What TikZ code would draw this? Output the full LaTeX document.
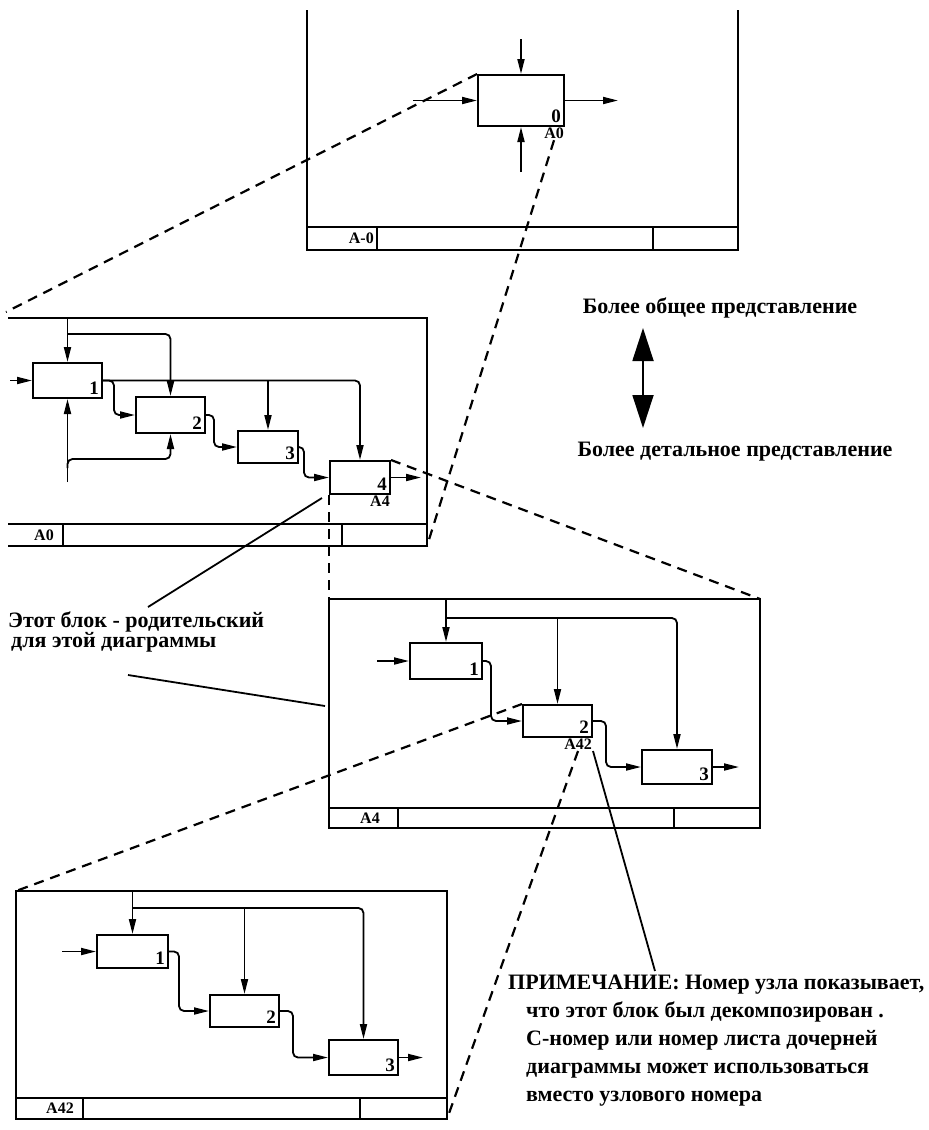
\documentclass[tikz,border=0pt]{standalone}
\usepackage{fontspec}
\setmainfont{Liberation Serif}
\usetikzlibrary{arrows.meta,calc}

\tikzset{
  frm/.style={line width=2pt},
  blk/.style 2 args={draw,line width=2pt,minimum width=#1,minimum height=#2,inner sep=0pt},
  num/.style={anchor=south east,inner sep=4pt,font=\bfseries\fontsize{19}{19}\selectfont},
  tag/.style={inner sep=1pt,font=\bfseries\fontsize{16}{16}\selectfont},
  txt/.style={inner sep=0pt,font=\bfseries\fontsize{22}{22}\selectfont},
  arr/.style={-{Triangle[length=15pt,width=7pt]},line width=1.8pt,rounded corners=5pt},
  dsh/.style={dash pattern=on 10pt off 7pt,line width=2.2pt},
  ptr/.style={line width=1.8pt},
}

\begin{document}
\begin{tikzpicture}[x=1pt,y=-1pt]
\useasboundingbox (0,0) rectangle (929,1130);

% A-0
\draw[frm] (307,10) -- (307,250) -- (738,250) -- (738,10);
\draw[frm] (307,227) -- (738,227) (377,227) -- (377,250) (653,227) -- (653,250);
\node[tag,anchor=east] (t0) at (375,238.5) {A-0};
\node[blk={86pt}{51pt}] (b0) at (521,100.5) {};
\node[num] (b0n) at (b0.south east) {0};
\node[tag,anchor=north east] (b0t) at (b0.south east) {A0};
\coordinate (b0c) at (521,39);
\coordinate (b0i) at (413,100.5);
\coordinate (b0o) at (618,100.5);
\coordinate (b0m) at (521,172);
\draw[arr] (b0c) -- (b0.north);
\draw[arr] (b0i) -- (b0.west);
\draw[arr] (b0.east) -- (b0o);
\draw[arr] (b0m) -- (b0.south);

% A0
\draw[frm] (8,318) -- (427,318) -- (427,546) -- (8,546);
\draw[frm] (8,524) -- (427,524) (63,524) -- (63,546) (342,524) -- (342,546);
\node[tag,anchor=east] (t1) at (55,535) {A0};
\node[blk={69pt}{35pt}] (b1) at (67.5,380.5) {};
\node[blk={69pt}{36pt}] (b2) at (170.5,415) {};
\node[blk={60pt}{32pt}] (b3) at (268,447) {};
\node[blk={60pt}{33pt}] (b4) at (360,477.5) {};
\node[num] (b1n) at (b1.south east) {1};
\node[num] (b2n) at (b2.south east) {2};
\node[num] (b3n) at (b3.south east) {3};
\node[num] (b4n) at (b4.south east) {4};
\node[tag,anchor=north east] (b4t) at (b4.south east) {A4};
\coordinate (b1i) at (10,380.5);
\coordinate (b1c) at (67.5,318);
\coordinate (b1m) at (67.5,482);
\draw[arr] (b1i) -- (b1.west);
\draw[arr] (b1c) -- (b1.north);
\draw[arr] ($(b1c)+(0,16)$) -| (b2.north);
\draw[arr] (b1m) -- (b1.south);
\draw[arr] ($(b1m)+(0,-14)$) |- ($(b2.south)+(0,25)$) -- (b2.south);
\draw[arr] (b1.east) -| (b4.north);
\draw[arr] (b3.north |- b1.east) -- (b3.north);
\draw[arr] (b1.east) -- ++(11,0) |- (b2.west);
\draw[arr] (b2.east) -- ++(8,0) |- (b3.west);
\draw[arr] (b3.east) -- ++(5,0) |- (b4.west);
\draw[arr] (b4.east) -- ++(30,0);

% A4
\draw[frm] (329,599) rectangle (760,828);
\draw[frm] (329,808) -- (760,808) (398,808) -- (398,828) (674,808) -- (674,828);
\node[tag,anchor=east] (t2) at (381,818) {A4};
\node[blk={72pt}{36pt}] (c1) at (446,661) {};
\node[blk={69pt}{32pt}] (c2) at (557.5,721) {};
\node[blk={70pt}{34pt}] (c3) at (677,767) {};
\node[num] (c1n) at (c1.south east) {1};
\node[num] (c2n) at (c2.south east) {2};
\node[num] (c3n) at (c3.south east) {3};
\node[tag,anchor=north east] (c2t) at (c2.south east) {A42};
\coordinate (c1i) at (377,661);
\coordinate (c1c) at (446,599);
\draw[arr] (c1i) -- (c1.west);
\draw[arr] (c1c) -- (c1.north);
\draw[arr] ($(c1c)+(0,19)$) -| (c3.north);
\draw[arr] (c2.north |- 0,618) -- (c2.north);
\draw[arr] (c1.east) -- ++(8,0) |- (c2.west);
\draw[arr] (c2.east) -- ++(13,0) |- (c3.west);
\draw[arr] (c3.east) -- ++(26,0);

% A42
\draw[frm] (16,891) rectangle (447,1119);
\draw[frm] (16,1098) -- (447,1098) (83,1098) -- (83,1119) (360,1098) -- (360,1119);
\node[tag,anchor=east] (t3) at (75,1108.5) {A42};
\node[blk={71pt}{33pt}] (d1) at (132.5,951.5) {};
\node[blk={69pt}{32pt}] (d2) at (244.5,1011) {};
\node[blk={69pt}{35pt}] (d3) at (363.5,1057.5) {};
\node[num] (d1n) at (d1.south east) {1};
\node[num] (d2n) at (d2.south east) {2};
\node[num] (d3n) at (d3.south east) {3};
\coordinate (d1i) at (62,951.5);
\coordinate (d1c) at (132.5,891);
\draw[arr] (d1i) -- (d1.west);
\draw[arr] (d1c) -- (d1.north);
\draw[arr] ($(d1c)+(0,17)$) -| (d3.north);
\draw[arr] (d2.north |- 0,908) -- (d2.north);
\draw[arr] (d1.east) -- ++(10,0) |- (d2.west);
\draw[arr] (d2.east) -- ++(13,0) |- (d3.west);
\draw[arr] (d3.east) -- ++(24,0);

% dashed links
\coordinate (f1nw) at (6,312);
\coordinate (f1se) at (427,546);
\coordinate (f2nw) at (329,599);
\coordinate (f2ne) at (760,599);
\coordinate (f3nw) at (16,891);
\coordinate (f3se) at (447,1119);
\draw[dsh] (b0.north west) -- (f1nw);
\draw[dsh] (b0t.south) -- (f1se);
\draw[dsh] (b4.south west) -- (f2nw);
\draw[dsh] (b4.north east) -- (f2ne);
\draw[dsh] (c2.north west) -- (f3nw);
\draw[dsh] (c2t.south) -- (f3se);

% texts
\node[txt] (gen) at (720,308) {Более общее представление};
\node[txt] (det) at (735,452) {Более детальное представление};
\coordinate (up) at (643,328);
\coordinate (dn) at (643,428);
\draw[{Triangle[length=33pt,width=21pt]}-{Triangle[length=33pt,width=21pt]},line width=1.8pt] (up) -- (dn);

\node[txt,align=left,anchor=north west,font=\bfseries\fontsize{22}{20}\selectfont] (par) at (8,612)
  {Этот блок - родительский\\\hspace*{3pt}для этой диаграммы};
\coordinate (p1) at (148,607);
\coordinate (p2) at (128,675);
\coordinate (p3) at (325,706);
\draw[ptr] ($(b4.south west)+(-7,3)$) -- (p1);
\draw[ptr] (p2) -- (p3);

\node[txt,align=left,anchor=north west,font=\bfseries\fontsize{22}{28}\selectfont] (note) at (508,975)
  {ПРИМЕЧАНИЕ: Номер узла показывает,\\
   \hspace*{18pt}что этот блок был декомпозирован .\\
   \hspace*{18pt}С-номер или номер листа дочерней\\
   \hspace*{18pt}диаграммы может использоваться\\
   \hspace*{18pt}вместо узлового номера};
\coordinate (n1) at (655,971);
\draw[ptr] (c2t.south east) -- (n1);
\end{tikzpicture}
\end{document}
